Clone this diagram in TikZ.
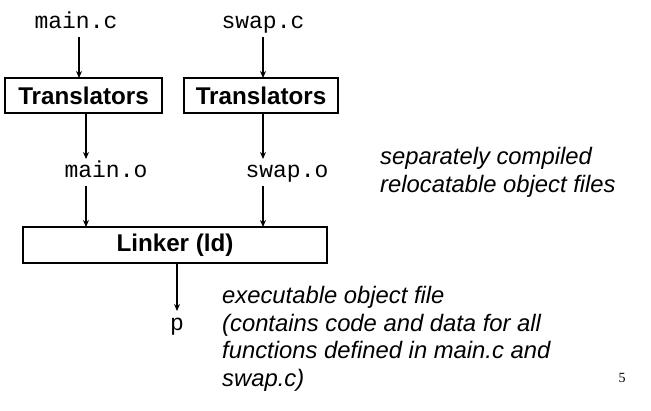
\documentclass[tikz,border=0pt]{standalone}
\usepackage{fontspec}
\setmainfont{Liberation Sans}
\newfontfamily\cour{Liberation Mono}
\newfontfamily\tms{Liberation Serif}
\usetikzlibrary{arrows.meta}
\begin{document}
\begin{tikzpicture}[x=1pt,y=-1pt,
  code/.style={font=\cour\fontsize{23}{27}\selectfont, inner sep=0pt, anchor=base},
  box/.style={draw, line width=2pt, font=\bfseries\fontsize{24.2}{27}\selectfont, inner sep=0pt},
  note/.style={font=\itshape\fontsize{23.8}{27.7}\selectfont, align=left, inner sep=0pt, anchor=north west},
  arr/.style={-{Stealth[length=7pt,width=6pt]}, line width=1.3pt}]
\useasboundingbox (0,0) rectangle (651,411);
\node[code] (mc) at (76,29) {main.c};
\node[code] (sc) at (263,29) {swap.c};
\node[box, minimum width=157pt, minimum height=35pt] (t1) at (83.5,95.5) {Translators};
\node[box, minimum width=154pt, minimum height=35pt] (t2) at (261,95.5) {Translators};
\node[code] (mo) at (106,178) {main.o};
\node[code] (so) at (287,178) {swap.o};
\node[box, minimum width=304pt, minimum height=36pt] (lk) at (175,245) {Linker (ld)};
\node[code] (p) at (177,331) {p};
\node[note] (n1) at (380,147) {separately compiled\\relocatable object files};
\node[note] (n2) at (222,286) {executable object file\\(contains code and data for all\\functions defined in main.c and\\swap.c)};
\node[font=\tms\fontsize{14}{16}\selectfont, inner sep=0pt] (pg) at (622,378) {5};
\coordinate (a1s) at (79,37); \coordinate (a1e) at (79,78);
\coordinate (a2s) at (263,37); \coordinate (a2e) at (263,78);
\coordinate (b1s) at (86,114); \coordinate (b1e) at (86,159);
\coordinate (b2s) at (263,114); \coordinate (b2e) at (263,159);
\coordinate (c1s) at (86,186); \coordinate (c1e) at (86,227);
\coordinate (c2s) at (263,186); \coordinate (c2e) at (263,227);
\coordinate (ds) at (177,264); \coordinate (de) at (177,311);
\draw[arr] (a1s) -- (a1e);
\draw[arr] (a2s) -- (a2e);
\draw[arr] (b1s) -- (b1e);
\draw[arr] (b2s) -- (b2e);
\draw[arr] (c1s) -- (c1e);
\draw[arr] (c2s) -- (c2e);
\draw[arr] (ds) -- (de);
\end{tikzpicture}
\end{document}
